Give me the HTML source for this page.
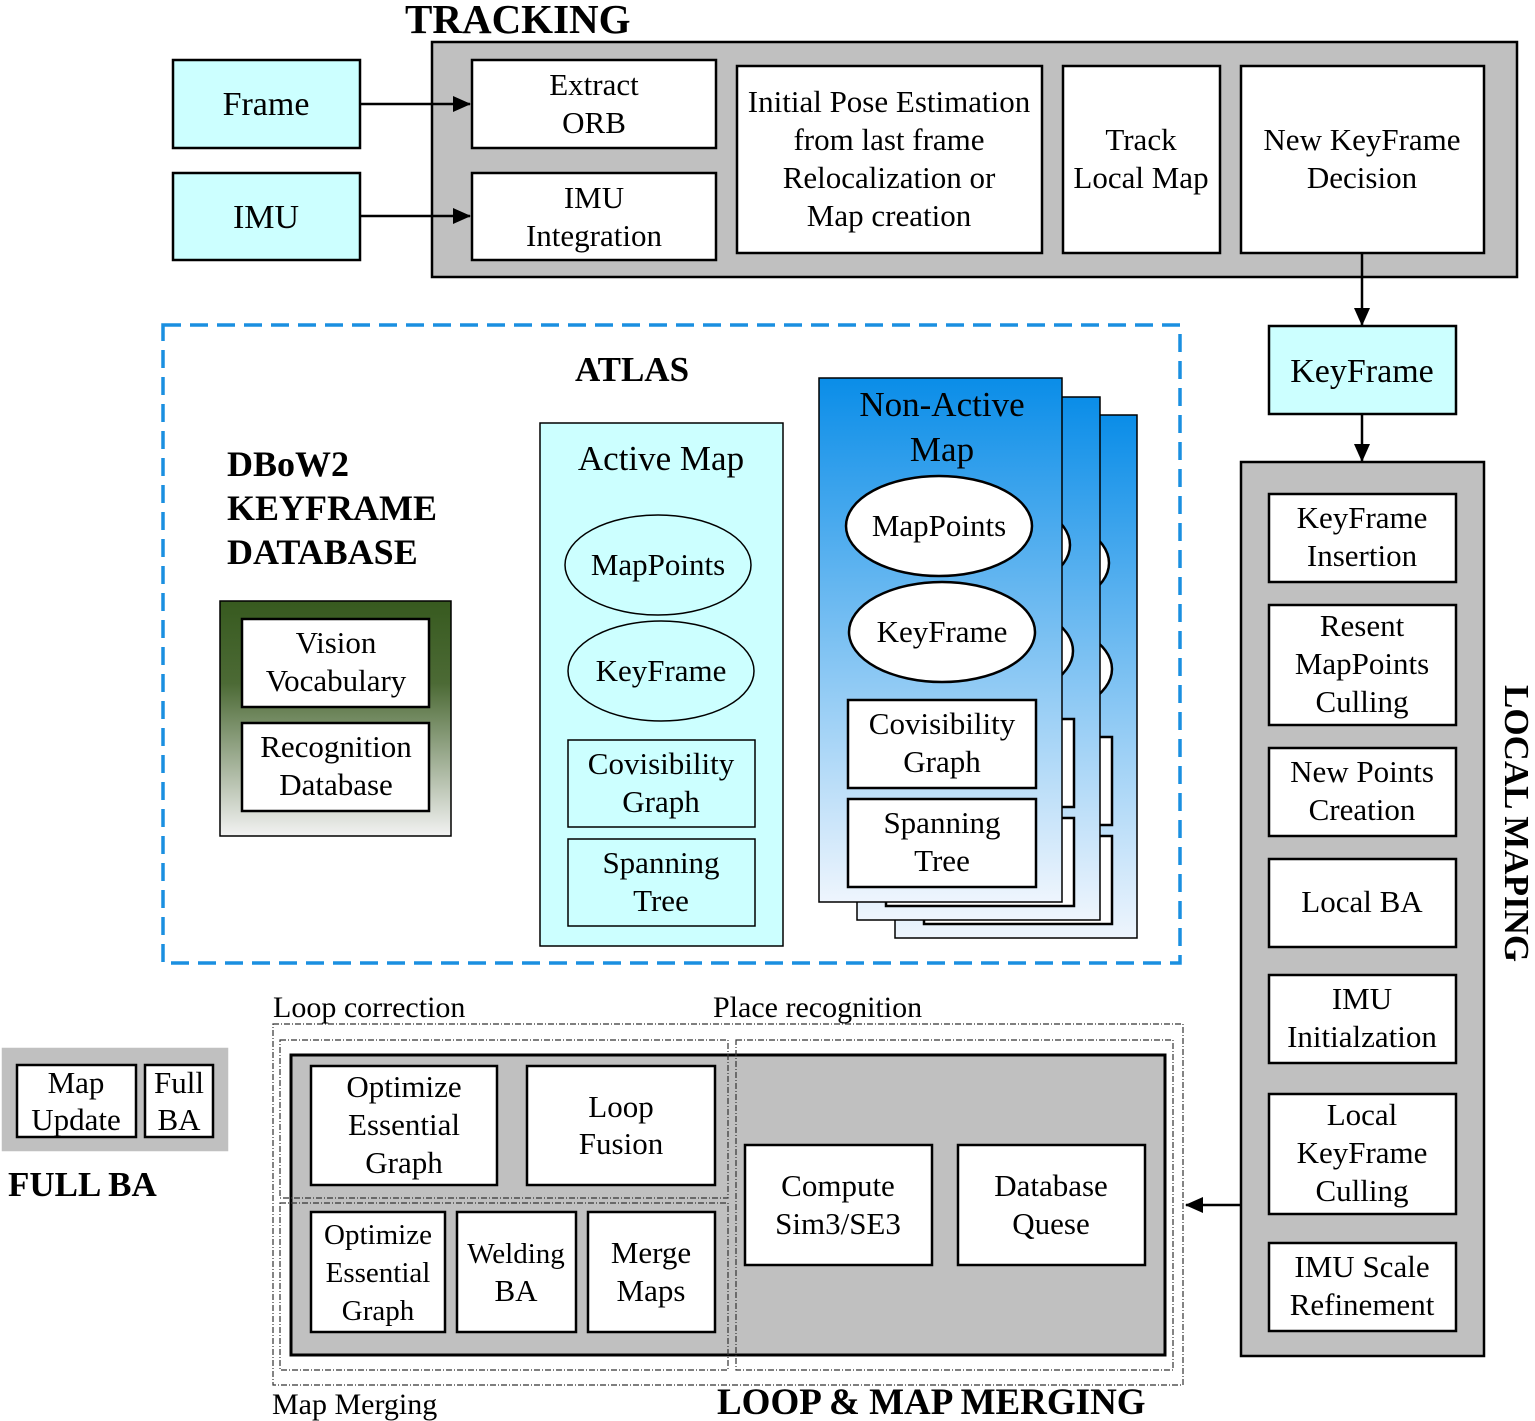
<!DOCTYPE html>
<html><head><meta charset="utf-8"><style>
html,body{margin:0;padding:0;background:#fff}
svg{display:block}
text{font-family:"Liberation Serif",serif;fill:#000}
.t{text-anchor:middle}
.b{font-weight:bold}
</style></head><body>
<svg width="1535" height="1421" viewBox="0 0 1535 1421" xmlns="http://www.w3.org/2000/svg" font-size="31">
<defs>
<linearGradient id="g1" x1="0" y1="0" x2="0" y2="1"><stop offset="0" stop-color="#0a8de8"/><stop offset="1" stop-color="#eef5fd"/></linearGradient>
<linearGradient id="g2" x1="0" y1="0" x2="0" y2="1"><stop offset="0" stop-color="#375a1f"/><stop offset="0.35" stop-color="#4c6a35"/><stop offset="1" stop-color="#f2f2f2"/></linearGradient>
<marker id="ar2" markerWidth="18" markerHeight="16" refX="17" refY="8" orient="auto" markerUnits="userSpaceOnUse"><path d="M0,0 L18,8 L0,16 z" fill="#000"/></marker>
</defs>
<g stroke="#000" stroke-width="2.5">
<rect x="432" y="42" width="1085" height="235" fill="#c0c0c0"/>
<rect x="173" y="60" width="187" height="88" fill="#ccffff"/>
<rect x="173" y="173" width="187" height="87" fill="#ccffff"/>
<rect x="472" y="60" width="244" height="88" fill="#fff"/>
<rect x="472" y="173" width="244" height="87" fill="#fff"/>
<rect x="737" y="66" width="305" height="187" fill="#fff"/>
<rect x="1063" y="66" width="157" height="187" fill="#fff"/>
<rect x="1241" y="66" width="243" height="187" fill="#fff"/>
<line x1="360" y1="104" x2="470" y2="104" marker-end="url(#ar2)"/>
<line x1="360" y1="216" x2="470" y2="216" marker-end="url(#ar2)"/>
<line x1="1362" y1="253" x2="1362" y2="325" marker-end="url(#ar2)"/>
<rect x="1269" y="326" width="187" height="88" fill="#ccffff"/>
<line x1="1362" y1="414" x2="1362" y2="461" marker-end="url(#ar2)"/>
<rect x="1241" y="462" width="243" height="894" fill="#c0c0c0"/>
<rect x="1269" y="494" width="187" height="88" fill="#fff"/>
<rect x="1269" y="605" width="187" height="120" fill="#fff"/>
<rect x="1269" y="748" width="187" height="88" fill="#fff"/>
<rect x="1269" y="859" width="187" height="88" fill="#fff"/>
<rect x="1269" y="975" width="187" height="88" fill="#fff"/>
<rect x="1269" y="1094" width="187" height="120" fill="#fff"/>
<rect x="1269" y="1243" width="187" height="88" fill="#fff"/>
<line x1="1241" y1="1205" x2="1186" y2="1205" marker-end="url(#ar2)"/>
<rect x="220" y="601" width="231" height="235" fill="url(#g2)" stroke-width="1.5"/>
<rect x="242" y="619" width="187" height="88" fill="#fff"/>
<rect x="242" y="723" width="187" height="88" fill="#fff"/>
<rect x="540" y="423" width="243" height="523" fill="#ccffff" stroke-width="1.5"/>
<ellipse cx="658" cy="565" rx="93" ry="50" fill="#ccffff" stroke-width="1.5"/>
<ellipse cx="661" cy="671" rx="93" ry="50" fill="#ccffff" stroke-width="1.5"/>
<rect x="568" y="740" width="187" height="87" fill="#ccffff" stroke-width="1.5"/>
<rect x="568" y="839" width="187" height="87" fill="#ccffff" stroke-width="1.5"/>
<rect x="895" y="415" width="242" height="523" fill="url(#g1)" stroke-width="1.5"/>
<ellipse cx="1016" cy="563" rx="93" ry="50" fill="#fff"/>
<ellipse cx="1019" cy="669" rx="93" ry="50" fill="#fff"/>
<rect x="924" y="737" width="188" height="88" fill="#fff"/>
<rect x="924" y="836" width="188" height="88" fill="#fff"/>
<rect x="857" y="397" width="243" height="523" fill="url(#g1)" stroke-width="1.5"/>
<ellipse cx="977" cy="545" rx="93" ry="50" fill="#fff"/>
<ellipse cx="980" cy="651" rx="93" ry="50" fill="#fff"/>
<rect x="886" y="719" width="188" height="88" fill="#fff"/>
<rect x="886" y="818" width="188" height="88" fill="#fff"/>
<rect x="819" y="378" width="243" height="524" fill="url(#g1)" stroke-width="1.5"/>
<ellipse cx="939" cy="526" rx="93" ry="50" fill="#fff"/>
<ellipse cx="942" cy="632" rx="93" ry="50" fill="#fff"/>
<rect x="848" y="700" width="188" height="88" fill="#fff"/>
<rect x="848" y="799" width="188" height="88" fill="#fff"/>
<rect x="3" y="1049" width="224" height="101" fill="#c0c0c0" stroke="#c0c0c0"/>
<rect x="17" y="1065" width="119" height="72" fill="#fff"/>
<rect x="145" y="1065" width="68" height="72" fill="#fff"/>
<rect x="291" y="1055" width="874" height="300" fill="#c0c0c0" stroke-width="3"/>
<rect x="311" y="1066" width="186" height="119" fill="#fff"/>
<rect x="527" y="1066" width="188" height="119" fill="#fff"/>
<rect x="311" y="1212" width="134" height="120" fill="#fff"/>
<rect x="457" y="1212" width="119" height="120" fill="#fff"/>
<rect x="588" y="1212" width="127" height="120" fill="#fff"/>
<rect x="745" y="1145" width="187" height="120" fill="#fff"/>
<rect x="958" y="1145" width="187" height="120" fill="#fff"/>
</g>
<g fill="none" stroke="#333" stroke-width="1.2" stroke-dasharray="6,2,1,2">
<rect x="273" y="1024" width="910" height="361"/>
<rect x="280" y="1040" width="448" height="158"/>
<rect x="280" y="1203" width="448" height="167"/>
<rect x="736" y="1040" width="437" height="330"/>
</g>
<rect x="163" y="325" width="1017" height="638" fill="none" stroke="#1a8fe0" stroke-width="3.5" stroke-dasharray="18,9"/>

<text x="405" y="33" class="b" style="font-size:41px">TRACKING</text>
<text class="t" x="266" y="115" style="font-size:34px">Frame</text>
<text class="t" x="266" y="228" style="font-size:34px">IMU</text>
<text class="t" x="594" y="95">Extract</text><text class="t" x="594" y="133">ORB</text>
<text class="t" x="594" y="208">IMU</text><text class="t" x="594" y="246">Integration</text>
<text class="t" x="889" y="112">Initial Pose Estimation</text>
<text class="t" x="889" y="150">from last frame</text>
<text class="t" x="889" y="188">Relocalization or</text>
<text class="t" x="889" y="226">Map creation</text>
<text class="t" x="1141" y="150">Track</text><text class="t" x="1141" y="188">Local Map</text>
<text class="t" x="1362" y="150">New KeyFrame</text><text class="t" x="1362" y="188">Decision</text>
<text class="t" x="1362" y="382" style="font-size:34px">KeyFrame</text>
<text class="t" x="1362" y="528">KeyFrame</text><text class="t" x="1362" y="566">Insertion</text>
<text class="t" x="1362" y="636">Resent</text><text class="t" x="1362" y="674">MapPoints</text><text class="t" x="1362" y="712">Culling</text>
<text class="t" x="1362" y="782">New Points</text><text class="t" x="1362" y="820">Creation</text>
<text class="t" x="1362" y="912">Local BA</text>
<text class="t" x="1362" y="1009">IMU</text><text class="t" x="1362" y="1047">Initialzation</text>
<text class="t" x="1362" y="1125">Local</text><text class="t" x="1362" y="1163">KeyFrame</text><text class="t" x="1362" y="1201">Culling</text>
<text class="t" x="1362" y="1277">IMU Scale</text><text class="t" x="1362" y="1315">Refinement</text>
<text x="1505" y="685" class="b" style="font-size:35px" transform="rotate(90 1505 685)">LOCAL MAPING</text>

<text class="t b" x="632" y="381" style="font-size:35px">ATLAS</text>
<text x="227" y="476" class="b" style="font-size:36px">DBoW2</text>
<text x="227" y="520" class="b" style="font-size:36px">KEYFRAME</text>
<text x="227" y="564" class="b" style="font-size:36px">DATABASE</text>
<text class="t" x="336" y="653">Vision</text><text class="t" x="336" y="691">Vocabulary</text>
<text class="t" x="336" y="757">Recognition</text><text class="t" x="336" y="795">Database</text>
<text class="t" x="661" y="470" style="font-size:35px">Active Map</text>
<text class="t" x="658" y="575">MapPoints</text>
<text class="t" x="661" y="681">KeyFrame</text>
<text class="t" x="661" y="774">Covisibility</text><text class="t" x="661" y="812">Graph</text>
<text class="t" x="661" y="873">Spanning</text><text class="t" x="661" y="911">Tree</text>
<text class="t" x="942" y="416" style="font-size:35px">Non-Active</text>
<text class="t" x="942" y="461" style="font-size:35px">Map</text>
<text class="t" x="939" y="536">MapPoints</text>
<text class="t" x="942" y="642">KeyFrame</text>
<text class="t" x="942" y="734">Covisibility</text><text class="t" x="942" y="772">Graph</text>
<text class="t" x="942" y="833">Spanning</text><text class="t" x="942" y="871">Tree</text>

<text class="t" x="76" y="1093">Map</text><text class="t" x="76" y="1130">Update</text>
<text class="t" x="179" y="1093">Full</text><text class="t" x="179" y="1130">BA</text>
<text x="8" y="1196" class="b" style="font-size:35px">FULL BA</text>

<text x="273" y="1017" style="font-size:30px">Loop correction</text>
<text x="713" y="1017" style="font-size:30px">Place recognition</text>
<text x="272" y="1414" style="font-size:30px">Map Merging</text>
<text x="717" y="1414" class="b" style="font-size:37px">LOOP &amp; MAP MERGING</text>
<text class="t" x="404" y="1097">Optimize</text><text class="t" x="404" y="1135">Essential</text><text class="t" x="404" y="1173">Graph</text>
<text class="t" x="621" y="1117">Loop</text><text class="t" x="621" y="1154">Fusion</text>
<text class="t" x="378" y="1244" style="font-size:29px">Optimize</text><text class="t" x="378" y="1282" style="font-size:29px">Essential</text><text class="t" x="378" y="1320" style="font-size:29px">Graph</text>
<text class="t" x="516" y="1263" style="font-size:29px">Welding</text><text class="t" x="516" y="1301">BA</text>
<text class="t" x="651" y="1263">Merge</text><text class="t" x="651" y="1301">Maps</text>
<text class="t" x="838" y="1196">Compute</text><text class="t" x="838" y="1234">Sim3/SE3</text>
<text class="t" x="1051" y="1196">Database</text><text class="t" x="1051" y="1234">Quese</text>
</svg>
</body></html>
